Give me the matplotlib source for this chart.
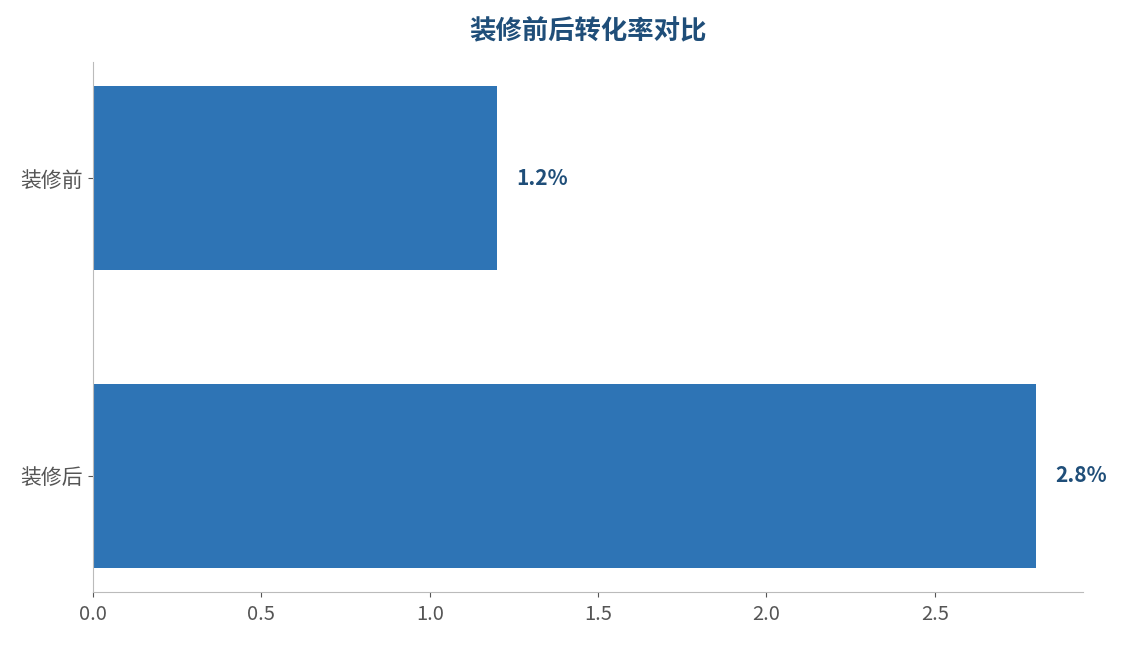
import matplotlib
matplotlib.use("Agg")
import matplotlib.pyplot as plt

plt.rcParams["font.family"] = ["Noto Sans CJK SC", "DejaVu Sans"]

categories = ["装修后", "装修前"]
rates = [2.8, 1.2]
labels = ["2.8%", "1.2%"]

BAR_COLOR = "#2E74B5"
TEXT_DARK = "#1F4E79"

fig = plt.figure(figsize=(11.21, 6.45), dpi=100)
ax = fig.add_axes([93 / 1121, 1 - 592 / 645, (1083 - 93) / 1121, (592 - 62) / 645])

bars = ax.barh(categories, rates, height=0.62, color=BAR_COLOR)
for bar, lab in zip(bars, labels):
    ax.text(bar.get_width() + 0.057, bar.get_y() + bar.get_height() / 2, lab,
            va="center", ha="left", fontsize=15, fontweight="bold", color=TEXT_DARK)

ax.set_xlim(0, 2.94)
ax.set_title("装修前后转化率对比", fontsize=19, fontweight="bold", color=TEXT_DARK, pad=16)

for side in ("top", "right"):
    ax.spines[side].set_visible(False)
for side in ("left", "bottom"):
    ax.spines[side].set_color("#BBBBBB")
ax.tick_params(axis="both", colors="#555555", labelcolor="#555555")
ax.tick_params(axis="y", labelsize=15)
ax.tick_params(axis="x", labelsize=14.5, pad=5)

fig.savefig("out.png", dpi=100)
